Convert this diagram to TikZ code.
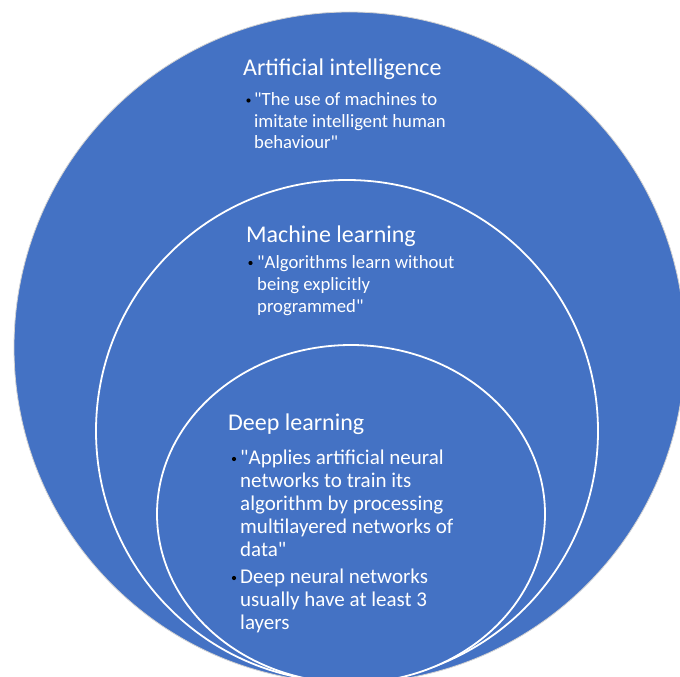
\documentclass[tikz,border=0pt]{standalone}
\usepackage{fontspec}
\setmainfont{Carlito}[Ligatures=TeXOff]
\definecolor{officeblue}{HTML}{4472C4}
\begin{document}
\begin{tikzpicture}[x=1pt,y=-1pt,
  ttl/.style={anchor=base west, inner sep=0pt, text=white, font=\fontsize{24}{28}\selectfont},
  bl/.style={anchor=base west, inner sep=0pt, text=white, font=\fontsize{18.7}{22}\selectfont},
  bld/.style={anchor=base west, inner sep=0pt, text=white, font=\fontsize{21}{24}\selectfont},
  dot/.style={circle, fill=black, inner sep=0pt, minimum size=4.2pt},
  ring/.style={draw=white, line width=1.8pt, fill=officeblue}]
\useasboundingbox (0,0) rectangle (680,677);
\fill[white] (0,0) rectangle (680,677);
\begin{scope}
  \clip (0,0) rectangle (680,677);
  \draw[fill=officeblue, draw=gray!35, line width=0.8pt] (349.5,347.5) circle (335.5pt);
  \draw[ring] (347,431) circle (251pt);
  \draw[ring] (351,514) ellipse (194pt and 169pt);
\end{scope}
% Artificial intelligence
\node[ttl] (ai) at (243,75.5) {Artificial intelligence};
\node[dot] (aid) at (248.5,100.5) {};
\node[bl] (ai1) at (254,105.5) {"The use of machines to};
\node[bl] (ai2) at (254,127) {imitate intelligent human};
\node[bl] (ai3) at (254,148.5) {behaviour"};
% Machine learning
\node[ttl] (ml) at (246,242.5) {Machine learning};
\node[dot] (mld) at (250.5,263) {};
\node[bl] (ml1) at (257,268.5) {"Algorithms learn without};
\node[bl] (ml2) at (257,290.5) {being explicitly};
\node[bl] (ml3) at (257,312.5) {programmed"};
% Deep learning
\node[ttl] (dl) at (228,430.5) {Deep learning};
\node[dot] (dld1) at (234,459) {};
\node[bld] (dl1) at (240,464.5) {"Applies artificial neural};
\node[bld] (dl2) at (240,487.5) {networks to train its};
\node[bld] (dl3) at (240,510.5) {algorithm by processing};
\node[bld] (dl4) at (240,533.5) {multilayered networks of};
\node[bld] (dl5) at (240,556.5) {data"};
\node[dot] (dld2) at (234,578) {};
\node[bld] (dl6) at (240,583.5) {Deep neural networks};
\node[bld] (dl7) at (240,606.5) {usually have at least 3};
\node[bld] (dl8) at (240,629.5) {layers};
\end{tikzpicture}
\end{document}
